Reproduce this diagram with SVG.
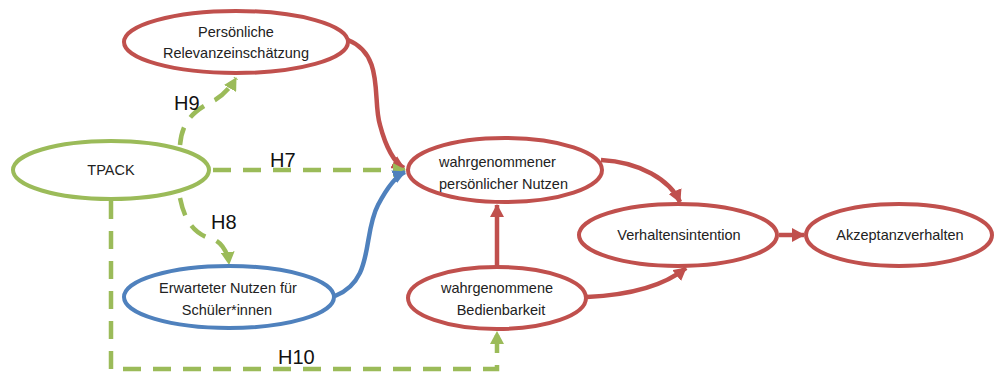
<svg xmlns="http://www.w3.org/2000/svg" width="995" height="372" viewBox="0 0 995 372">
<defs>
<marker id="ar" markerUnits="userSpaceOnUse" markerWidth="14" markerHeight="14" refX="12" refY="7" orient="auto"><path d="M0,0 L13,7 L0,14 Z" fill="#C0504D"/></marker>
<marker id="ag" markerUnits="userSpaceOnUse" markerWidth="14" markerHeight="14" refX="12" refY="7" orient="auto"><path d="M0,0 L13,7 L0,14 Z" fill="#9BBB59"/></marker>
<marker id="ab" markerUnits="userSpaceOnUse" markerWidth="14" markerHeight="14" refX="12" refY="7" orient="auto"><path d="M0,0 L13,7 L0,14 Z" fill="#4F81BD"/></marker>
</defs>
<style>
.n{fill:#fff;stroke-width:4}
.r{stroke:#C0504D}
.g{stroke:#9BBB59}
.b{stroke:#4F81BD}
.e{fill:none;stroke-width:4.5}
.d{stroke-dasharray:18 12}
text{font-family:"Liberation Sans",Arial,sans-serif;font-size:14.5px;fill:#222}
.c{text-anchor:middle}
.h{font-size:20px;fill:#111}
</style>
<rect width="995" height="372" fill="#fff"/>
<g id="connectors">
<path class="e r" d="M348,40 C385,55 372,100 380,125 C386,148 395,163 404,168" marker-end="url(#ar)"/>
<path class="e g d" d="M180,145 C182,120 195,110 215,100 C225,94 232,85 236,78" marker-end="url(#ag)"/>
<path class="e g d" d="M213,170 L405,170" marker-end="url(#ag)"/>
<path class="e g d" d="M180,198 C186,228 200,236 215,240 C224,245 228,255 229,264" marker-end="url(#ag)"/>
<path class="e g d" d="M111,201 L111,369 L497,369 L497,332" marker-end="url(#ag)"/>
<path class="e b" d="M335,296 C375,280 362,235 378,205 C388,186 396,176 405,172" marker-end="url(#ab)"/>
<path class="e r" d="M497,266 L497,205" marker-end="url(#ar)"/>
<path class="e r" d="M601,160 C640,162 670,180 680,202" marker-end="url(#ar)"/>
<path class="e r" d="M587,297 C630,295 665,285 686,268" marker-end="url(#ar)"/>
<path class="e r" d="M779,235 L804,235" marker-end="url(#ar)"/>
</g>
<g id="n-relevanz"><ellipse class="n r" cx="236" cy="42" rx="112" ry="31"/><text class="c" x="236" y="37">Persönliche</text><text class="c" x="236" y="58">Relevanzeinschätzung</text></g>
<g id="n-tpack"><ellipse class="n g" cx="111" cy="170" rx="98" ry="29"/><text class="c" x="111" y="175">TPACK</text></g>
<g id="n-nutzen"><ellipse class="n r" cx="505" cy="170" rx="97" ry="32"/><text x="439" y="167">wahrgenommener</text><text x="439" y="189">persönlicher Nutzen</text></g>
<g id="n-intention"><ellipse class="n r" cx="678" cy="235" rx="99" ry="31"/><text class="c" x="679" y="240">Verhaltensintention</text></g>
<g id="n-akzeptanz"><ellipse class="n r" cx="899" cy="235" rx="93" ry="31"/><text class="c" x="900" y="240">Akzeptanzverhalten</text></g>
<g id="n-bedien"><ellipse class="n r" cx="497" cy="298" rx="89" ry="31"/><text class="c" x="497" y="293">wahrgenommene</text><text class="c" x="501" y="315">Bedienbarkeit</text></g>
<g id="n-schueler"><ellipse class="n b" cx="229" cy="297" rx="105" ry="31"/><text class="c" x="228" y="293">Erwarteter Nutzen für</text><text class="c" x="227" y="315">Schüler*innen</text></g>
<g id="labels">
<text class="h" x="174" y="110">H9</text>
<text class="h" x="270" y="167">H7</text>
<text class="h" x="211" y="229">H8</text>
<text class="h" x="278" y="364">H10</text>
</g>
</svg>
